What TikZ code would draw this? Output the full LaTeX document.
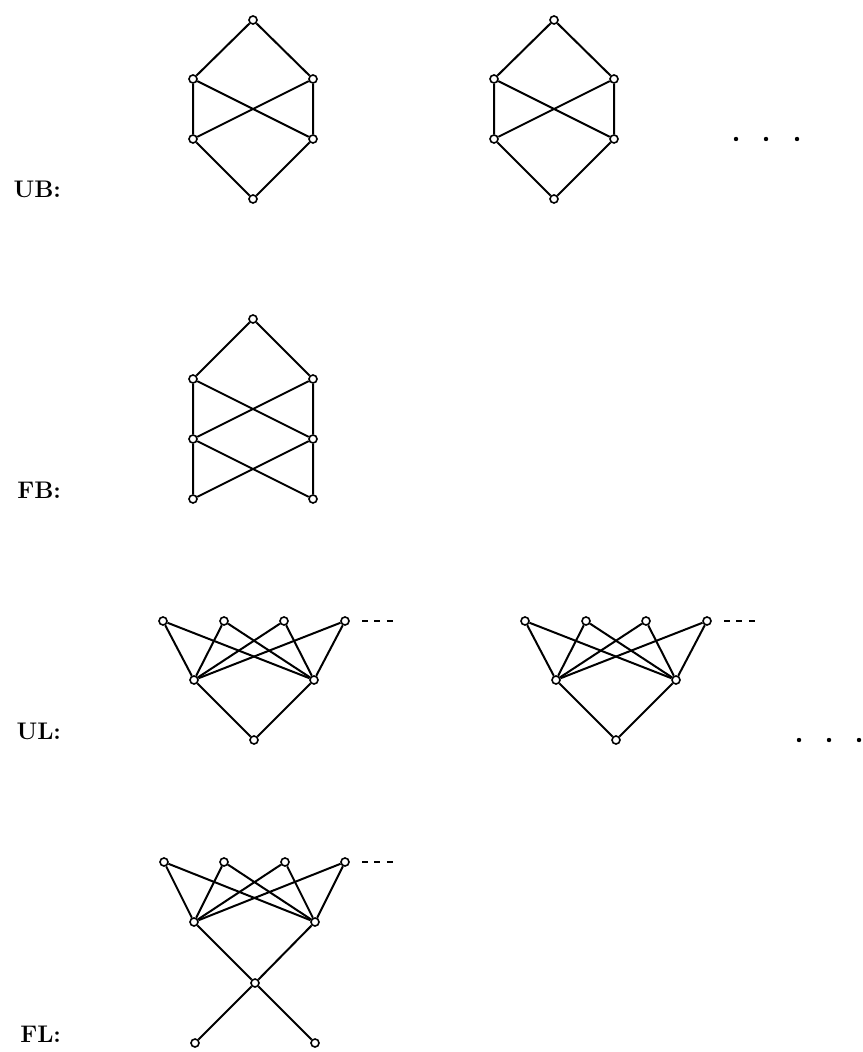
\documentclass[tikz,border=0pt]{standalone}
\begin{document}
\begin{tikzpicture}[x=0.5pt,y=-0.5pt,line width=1pt,
    vtx/.style={circle,draw,fill=white,inner sep=0pt,minimum size=4pt,line width=0.8pt},
    lbl/.style={anchor=base east,inner sep=0pt,font=\large\bfseries},
    more/.style={dash pattern=on 3pt off 3.2pt,line width=0.8pt}]
    \useasboundingbox (0,0) rectangle (862,1052);
    % UB
    \foreach \s/\i in {0/1,301/2}{
    \node[vtx] (ub\i t) at (253+\s,20) {};
    \node[vtx] (ub\i a) at (193+\s,79) {};
    \node[vtx] (ub\i b) at (313+\s,79) {};
    \node[vtx] (ub\i c) at (193+\s,139) {};
    \node[vtx] (ub\i d) at (313+\s,139) {};
    \node[vtx] (ub\i e) at (253+\s,199) {};
    \draw (ub\i t) -- (ub\i a) -- (ub\i c) -- (ub\i e) -- (ub\i d) -- (ub\i b) -- (ub\i t);
    \draw (ub\i a) -- (ub\i d) (ub\i b) -- (ub\i c);
    }
    \foreach \x in {736,766,797}
    \fill (\x,139) circle (1.1pt);
    \node[lbl] (ublbl) at (62,198) {UB:};
    % FB
    \node[vtx] (fbt) at (253,319) {};
    \node[vtx] (fba) at (193,379) {};
    \node[vtx] (fbb) at (313,379) {};
    \node[vtx] (fbc) at (193,439) {};
    \node[vtx] (fbd) at (313,439) {};
    \node[vtx] (fbe) at (193,499) {};
    \node[vtx] (fbf) at (313,499) {};
    \draw (fbe) -- (fbc) -- (fba) -- (fbt) -- (fbb) -- (fbd) -- (fbf);
    \draw (fba) -- (fbd) -- (fbe) (fbb) -- (fbc) -- (fbf);
    \node[lbl] (fblbl) at (62,498) {FB:};
    % UL
    \foreach \s/\i in {0/1,362/2}{
    \node[vtx] (ul\i l) at (194+\s,680) {};
    \node[vtx] (ul\i r) at (314+\s,680) {};
    \node[vtx] (ul\i b) at (254+\s,740) {};
    \foreach \x [count=\k] in {163,224,284,345}{
    \node[vtx] (ul\i t\k) at (\x+\s,621) {};
    \draw (ul\i l) -- (ul\i t\k) -- (ul\i r);
    }
    \draw (ul\i l) -- (ul\i b) -- (ul\i r);
    \draw[more] (ul\i t4) ++(17,0) -- ++(31,0);
    }
    \foreach \x in {799,829,859}
    \fill (\x,740) circle (1.1pt);
    \node[lbl] (ullbl) at (62,739) {UL:};
    % FL
    \node[vtx] (fll) at (194,922) {};
    \node[vtx] (flr) at (315,922) {};
    \node[vtx] (flc) at (255,983) {};
    \node[vtx] (flx) at (195,1043) {};
    \node[vtx] (fly) at (315,1043) {};
    \foreach \x [count=\k] in {164,224,285,345}{
    \node[vtx] (flt\k) at (\x,862) {};
    \draw (fll) -- (flt\k) -- (flr);
    }
    \draw (fll) -- (flc) -- (flr) (flx) -- (flc) -- (fly);
    \draw[more] (flt4) ++(17,0) -- ++(31,0);
    \node[lbl] (fllbl) at (62,1042) {FL:};
\end{tikzpicture}
\end{document}
